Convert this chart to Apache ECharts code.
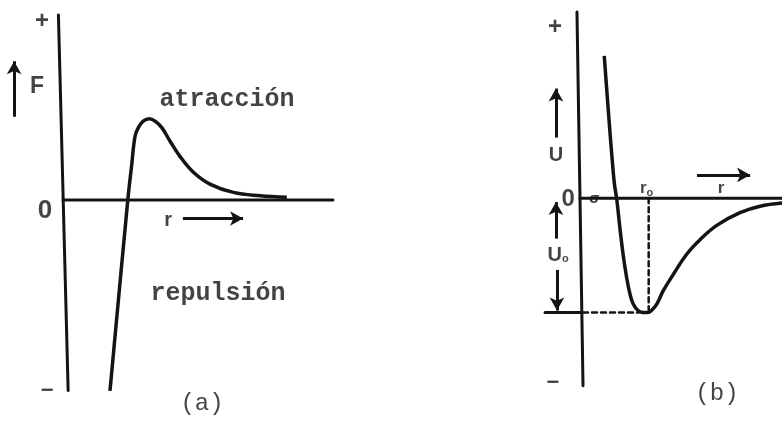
<!DOCTYPE html>
<html>
<head>
<meta charset="utf-8">
<script src="https://cdn.jsdelivr.net/npm/echarts@6/dist/echarts.min.js"></script>
<style>
  html, body { margin: 0; padding: 0; background: #fff; }
  #chart { width: 782px; height: 422px; }
</style>
</head>
<body>
<div id="chart"></div>
<script>
// (a) intermolecular force F as a function of separation r (arbitrary units)
const forceR = [1.74, 2.40, 2.54, 2.67, 2.79, 2.97, 3.20, 3.41, 3.66, 3.96, 4.33, 4.83, 5.44, 6.31, 7.30, 8.29];
const forceF = [-1.032, 0.00, 0.184, 0.346, 0.391, 0.426, 0.439, 0.426, 0.391, 0.319, 0.236, 0.150, 0.086, 0.041, 0.023, 0.015];

// (b) potential energy U as a function of separation r (arbitrary units)
const potR = [1.20, 1.32, 1.44, 1.57, 1.70, 1.82, 1.98, 2.14, 2.31, 2.48, 2.64, 2.89, 3.12, 3.35, 3.58, 3.80, 4.11, 4.60, 5.28, 5.94, 6.77, 7.92, 8.91, 10.0];
const potU = [0.765, 0.589, 0.416, 0.239, 0.081, -0.005, -0.163, -0.305, -0.426, -0.516, -0.568, -0.604, -0.612, -0.613, -0.597, -0.568, -0.498, -0.411, -0.300, -0.222, -0.145, -0.077, -0.042, -0.025];

// equilibrium separation r0 and well depth Ue
const r0 = 3.4;
const Ue = 0.612;

const INK = '#141414';
const zip = (xs, ys) => xs.map((x, i) => [x, ys[i]]);

// plain segment (axes, ticks, guides)
function seg(idx, pts, width, dashed) {
  return {
    type: 'line', xAxisIndex: idx, yAxisIndex: idx, data: pts,
    showSymbol: false, symbol: 'none', clip: false, silent: true,
    lineStyle: { color: INK, width: width, type: dashed ? [5, 4] : 'solid', cap: 'round' }
  };
}

// arrows drawn as mark lines with an arrow head at the end
function arrows(idx, list) {
  return {
    type: 'line', xAxisIndex: idx, yAxisIndex: idx, data: [], silent: true,
    markLine: {
      silent: true, animation: false,
      symbol: ['none', 'arrow'], symbolSize: [11, 13],
      label: { show: false },
      lineStyle: { color: INK, width: 3, type: 'solid' },
      data: list.map(a => [{ coord: a[0] }, { coord: a[1] }])
    }
  };
}

// text labels anchored in data coordinates
function texts(idx, list) {
  return {
    type: 'scatter', xAxisIndex: idx, yAxisIndex: idx, symbolSize: 0, silent: true, clip: false,
    data: list.map(t => ({
      name: t.text, value: t.at,
      label: Object.assign({
        show: true, position: 'inside', formatter: t.text, color: INK
      }, t.style)
    }))
  };
}

const mono = { fontFamily: 'Liberation Mono', fontWeight: 'bold', fontSize: 25 };
const sansBold = size => ({ fontFamily: 'Liberation Sans', fontWeight: 'bold', fontSize: size });
const subRich = {
  b: { fontFamily: 'Liberation Sans', fontWeight: 'bold', fontSize: 20, color: INK },
  s: { fontFamily: 'Liberation Sans', fontWeight: 'bold', fontSize: 11, color: INK, padding: [8, 0, 0, 0] }
};

const option = {
  animation: false,
  backgroundColor: '#ffffff',
  grid: [
    { left: 9, top: 15, width: 351, height: 409.2 },
    { left: 539.6, top: 12, width: 242.4, height: 418 }
  ],
  xAxis: [
    { type: 'value', gridIndex: 0, min: -2, max: 11, show: false },
    { type: 'value', gridIndex: 1, min: -2, max: 10, show: false }
  ],
  yAxis: [
    { type: 'value', gridIndex: 0, min: -1.2, max: 1, show: false },
    { type: 'value', gridIndex: 1, min: -1.2, max: 1, show: false }
  ],
  series: [
    // ---- panel (a) ----
    seg(0, [[-0.17, 1.0], [0.19, -1.03]], 3),
    seg(0, [[0.0, 0], [10, 0]], 3),
    {
      type: 'line', xAxisIndex: 0, yAxisIndex: 0, data: zip(forceR, forceF),
      smooth: 0.4, showSymbol: false, clip: false,
      lineStyle: { color: INK, width: 3.5 }
    },
    arrows(0, [
      [[-1.81, 0.45], [-1.81, 0.75]],
      [[4.44, -0.10], [6.67, -0.10]]
    ]),
    texts(0, [
      { text: '+', at: [-0.78, 0.965], style: sansBold(24) },
      { text: '0', at: [-0.67, -0.06], style: sansBold(26) },
      { text: '−', at: [-0.59, -1.03], style: sansBold(22) },
      { text: 'F', at: [-0.96, 0.61], style: sansBold(23) },
      { text: 'r', at: [3.89, -0.11], style: sansBold(20) },
      { text: 'atracción', at: [6.07, 0.54], style: mono },
      { text: 'repulsión', at: [5.74, -0.505], style: mono },
      { text: '(a)', at: [5.15, -1.10], style: { fontFamily: 'Liberation Mono', fontSize: 24 } }
    ]),

    // ---- panel (b) ----
    seg(1, [[-0.15, 1.0], [0.15, -1.005]], 3),
    seg(1, [[0.0, 0], [10, 0]], 3),
    {
      type: 'line', xAxisIndex: 1, yAxisIndex: 1, data: zip(potR, potU),
      smooth: 0.4, showSymbol: false, clip: false,
      lineStyle: { color: INK, width: 3.5 }
    },
    // dashed guides at the minimum (r0, -Ue)
    seg(1, [[r0, 0], [r0, -Ue]], 2.5, true),
    seg(1, [[0.15, -Ue], [r0 - 0.5, -Ue]], 2.5, true),
    // solid tick marking the -Ue level left of the axis
    seg(1, [[-1.73, -Ue], [0.0, -Ue]], 3),
    arrows(1, [
      [[-1.19, 0.326], [-1.19, 0.589]],
      [[-1.19, -0.216], [-1.19, -0.02]],
      [[-1.14, -0.384], [-1.14, -Ue + 0.01]],
      [[5.79, 0.126], [8.42, 0.126]]
    ]),
    texts(1, [
      { text: '+', at: [-1.24, 0.916], style: sansBold(24) },
      { text: '0', at: [-0.59, -0.005], style: sansBold(24) },
      { text: '−', at: [-1.34, -0.99], style: sansBold(22) },
      { text: 'σ', at: [0.72, -0.005], style: { fontFamily: 'DejaVu Sans', fontWeight: 'bold', fontSize: 14 } },
      { text: 'U', at: [-1.19, 0.232], style: sansBold(20) },
      { text: '{b|U}{s|o}', at: [-1.08, -0.305], style: { rich: subRich } },
      { text: '{b|r}{s|o}', at: [3.3, 0.053], style: { rich: { b: Object.assign({}, subRich.b, { fontSize: 17 }), s: subRich.s } } },
      { text: 'r', at: [6.98, 0.053], style: sansBold(17) },
      { text: '(b)', at: [6.78, -1.05], style: { fontFamily: 'Liberation Mono', fontSize: 24 } }
    ])
  ]
};

const chart = echarts.init(document.getElementById('chart'), null, { renderer: 'canvas' });
chart.setOption(option);
</script>
</body>
</html>
